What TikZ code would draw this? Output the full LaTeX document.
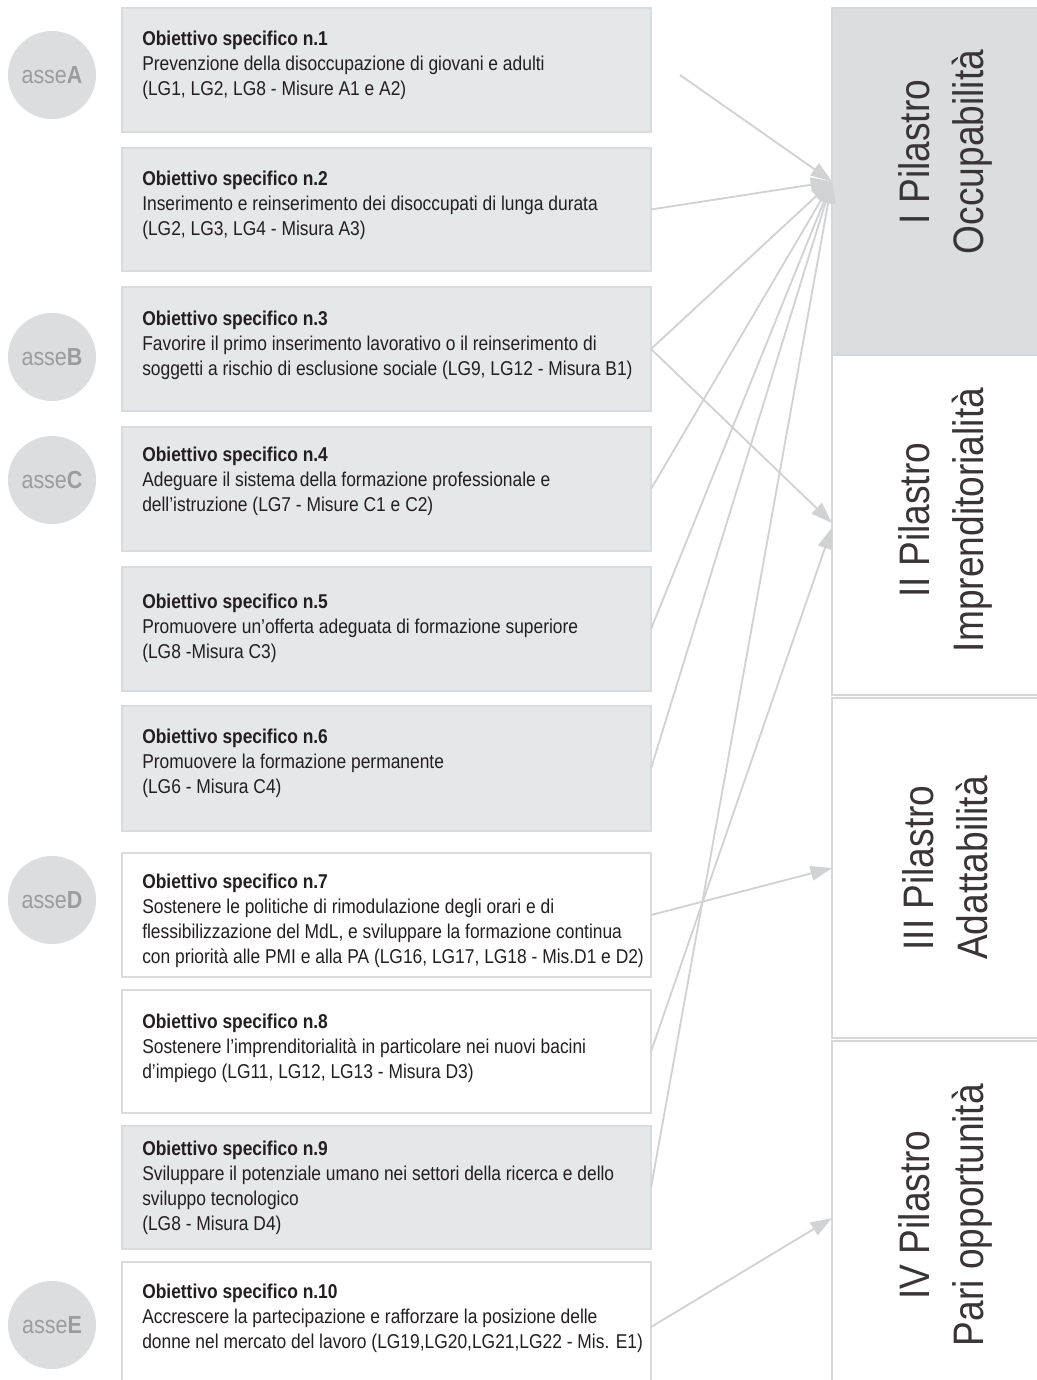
\documentclass[tikz,border=0pt]{standalone}
\usepackage{fontspec}
\setmainfont{Liberation Sans}[FakeStretch=0.87]
\usetikzlibrary{arrows.meta}
\definecolor{txt}{HTML}{231F20}
\definecolor{boxgray}{HTML}{E6E7E8}
\definecolor{boxedge}{HTML}{DADBDC}
\definecolor{circgray}{HTML}{DCDDDE}
\definecolor{circtext}{HTML}{9A9C9F}
\definecolor{pgray}{HTML}{DCDDDE}
\definecolor{pedge}{HTML}{D6D7D8}
\definecolor{lineg}{HTML}{D1D2D4}
\begin{document}
\begin{tikzpicture}[x=0.75pt,y=-0.75pt,
  gbox/.style={draw=boxedge, line width=1.2pt, fill=boxgray, minimum width=396.75pt, inner sep=0pt, outer sep=0pt, anchor=north west},
  wbox/.style={draw=boxedge, line width=1.2pt, fill=white, minimum width=396.75pt, inner sep=0pt, outer sep=0pt, anchor=north west},
  otext/.style={anchor=west, align=left, inner sep=0pt, text=txt, font=\fontsize{15}{18.75}\selectfont},
  asse/.style={circle, fill=circgray, minimum size=66pt, inner sep=0pt, text=circtext, font=\fontsize{18.5}{18.5}\selectfont},
  pillar/.style={draw=pedge, line width=1.2pt, minimum width=156pt, inner sep=0pt, outer sep=0pt, anchor=north west},
  ptext/.style={rotate=90, align=center, inner sep=0pt, text=txt!90, font=\fontsize{32}{40.5}\selectfont},
  conn/.style={draw=lineg, line width=1.4pt, -{Triangle[length=16pt,width=11pt]}}
]
\useasboundingbox (0,0) rectangle (1037,1380);

% objective boxes
\node[gbox, minimum height=93pt]    (o1)  at (122,8)    {};
\node[gbox, minimum height=92.25pt] (o2)  at (122,148)  {};
\node[gbox, minimum height=93pt]    (o3)  at (122,287)  {};
\node[gbox, minimum height=93pt]    (o4)  at (122,427)  {};
\node[gbox, minimum height=93pt]    (o5)  at (122,567)  {};
\node[gbox, minimum height=93.75pt] (o6)  at (122,706)  {};
\node[wbox, minimum height=93pt]    (o7)  at (122,853)  {};
\node[wbox, minimum height=92.25pt] (o8)  at (122,990)  {};
\node[gbox, minimum height=92.25pt] (o9)  at (122,1126) {};
\node[wbox, minimum height=97.5pt]  (o10) at (122,1262) {};

% texts
\node[otext] (t1) at (142,65) {\textbf{Obiettivo specifico n.1}\\Prevenzione della disoccupazione di giovani e adulti\\(LG1, LG2, LG8 - Misure A1 e A2)};
\node[otext] (t2) at (142,205) {\textbf{Obiettivo specifico n.2}\\Inserimento e reinserimento dei disoccupati di lunga durata\\(LG2, LG3, LG4 - Misura A3)};
\node[otext] (t3) at (142,345) {\textbf{Obiettivo specifico n.3}\\Favorire il primo inserimento lavorativo o il reinserimento di\\soggetti a rischio di esclusione sociale (LG9, LG12 - Misura B1)};
\node[otext] (t4) at (142,481) {\textbf{Obiettivo specifico n.4}\\Adeguare il sistema della formazione professionale e\\dell’istruzione (LG7 - Misure C1 e C2)};
\node[otext] (t5) at (142,628) {\textbf{Obiettivo specifico n.5}\\Promuovere un’offerta adeguata di formazione superiore\\(LG8 -Misura C3)};
\node[otext] (t6) at (142,763) {\textbf{Obiettivo specifico n.6}\\Promuovere la formazione permanente\\(LG6 - Misura C4)};
\node[otext] (t7) at (142,921) {\textbf{Obiettivo specifico n.7}\\Sostenere le politiche di rimodulazione degli orari e di\\flessibilizzazione del MdL, e sviluppare la formazione continua\\con priorità alle PMI e alla PA (LG16, LG17, LG18 - Mis.D1 e D2)};
\node[otext] (t8) at (142,1048) {\textbf{Obiettivo specifico n.8}\\Sostenere l’imprenditorialità in particolare nei nuovi bacini\\d’impiego (LG11, LG12, LG13 - Misura D3)};
\node[otext] (t9) at (142,1188) {\textbf{Obiettivo specifico n.9}\\Sviluppare il potenziale umano nei settori della ricerca e dello\\sviluppo tecnologico\\(LG8 - Misura D4)};
\node[otext] (t10) at (142,1318) {\textbf{Obiettivo specifico n.10}\\Accrescere la partecipazione e rafforzare la posizione delle\\donne nel mercato del lavoro (LG19,LG20,LG21,LG22 - Mis. E1)};

% asse circles
\node[asse] (aA) at (52,75)   {asse\textbf{A}};
\node[asse] (aB) at (52,357)  {asse\textbf{B}};
\node[asse] (aC) at (52,480)  {asse\textbf{C}};
\node[asse] (aD) at (52,900)  {asse\textbf{D}};
\node[asse] (aE) at (52,1325) {asse\textbf{E}};

% pillars
\node[pillar, fill=pgray, minimum height=260.25pt] (p1) at (832,8)    {};
\node[pillar, fill=white, minimum height=255pt]    (p2) at (832,355)  {};
\node[pillar, fill=white, minimum height=255pt]    (p3) at (832,698)  {};
\node[pillar, fill=white, minimum height=265.5pt]  (p4) at (832,1041) {};

\node[ptext] (l1) at (945,152)  {I Pilastro\\Occupabilità};
\node[ptext] (l2) at (945,520)  {II Pilastro\\Imprenditorialità};
\node[ptext] (l3) at (945,868)  {III Pilastro\\Adattabilità};
\node[ptext] (l4) at (945,1215) {IV Pilastro\\Pari opportunità};

% connectors
\coordinate (s1) at (680,75);
\draw[conn] (s1) -- (p1.west);
\draw[conn] (o2.east) -- (p1.west);
\draw[conn] (o3.east) -- (p1.west);
\draw[conn] (o4.east) -- (p1.west);
\draw[conn] (o5.east) -- (p1.west);
\draw[conn] (o6.east) -- (p1.west);
\draw[conn] (o9.east) -- (p1.west);
\draw[conn] (o3.east) -- ([yshift=1.5pt]p2.west);
\draw[conn] (o8.east) -- ([yshift=-2pt]p2.west);
\draw[conn] (o7.east) -- (p3.west);
\draw[conn] (o10.east) -- (p4.west);
\end{tikzpicture}
\end{document}
